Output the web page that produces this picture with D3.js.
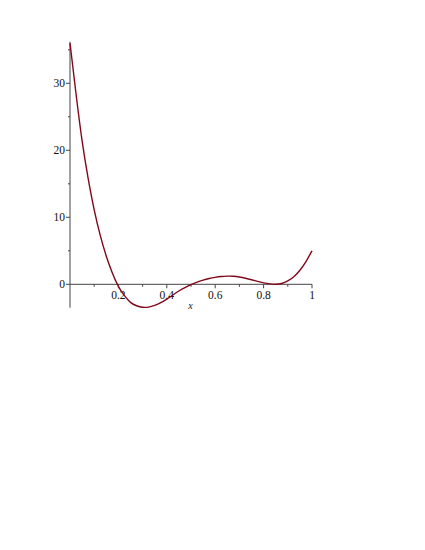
<!DOCTYPE html>
<html>
<head>
<meta charset="utf-8">
<script src="https://cdn.jsdelivr.net/npm/d3@7"></script>
<style>
html,body{margin:0;padding:0;background:#fff;}
svg{display:block;}
</style>
</head>
<body>
<script>
// Data
const xValues = [0,0.025,0.05,0.075,0.1,0.125,0.15,0.175,0.2,0.225,0.25,0.275,0.3,0.325,0.35,0.375,0.4,0.425,0.45,0.475,0.5,0.525,0.55,0.575,0.6,0.625,0.65,0.675,0.7,0.725,0.75,0.775,0.8,0.825,0.85,0.875,0.9,0.925,0.95,0.975,1.0];
const yValues = [36.0,28.4,21.4,15.8,11.1,7.3,4.2,1.7,-0.3,-1.7,-2.7,-3.2,-3.42,-3.4,-3.15,-2.75,-2.2,-1.6,-1.0,-0.5,-0.05,0.33,0.63,0.87,1.04,1.16,1.22,1.2,1.08,0.9,0.68,0.44,0.22,0.06,0.0,0.12,0.5,1.12,2.1,3.4,5.0];
const xMajorTicks = [0.2,0.4,0.6,0.8,1];
const xMinorTicks = [0.1,0.3,0.5,0.7,0.9];
const yMajorTicks = [0,10,20,30];
const yMinorTicks = [5,15,25,35];
const xLabel = "x";

const W = 425, H = 550;
const svg = d3.select("body").append("svg").attr("width", W).attr("height", H);

const x = d3.scaleLinear().domain([0, 1]).range([70, 312]);
const y = d3.scaleLinear().domain([0, 10]).range([284.3, 217.3]);
const yMin = -3.5, yMax = 36.2;

const axisColor = "#444";
const font = "'Liberation Serif', 'DejaVu Serif', serif";

// y axis line
svg.append("line")
  .attr("x1", x(0)).attr("x2", x(0))
  .attr("y1", y(yMax)).attr("y2", y(yMin))
  .attr("stroke", axisColor).attr("stroke-width", 1);

// x axis line
svg.append("line")
  .attr("x1", x(0)).attr("x2", x(1))
  .attr("y1", y(0)).attr("y2", y(0))
  .attr("stroke", axisColor).attr("stroke-width", 1);

// y ticks
svg.selectAll(".ytick").data(yMajorTicks).join("line")
  .attr("x1", x(0) - 4).attr("x2", x(0))
  .attr("y1", d => y(d)).attr("y2", d => y(d))
  .attr("stroke", axisColor).attr("stroke-width", 1);
svg.selectAll(".ymtick").data(yMinorTicks).join("line")
  .attr("x1", x(0) - 2).attr("x2", x(0))
  .attr("y1", d => y(d)).attr("y2", d => y(d))
  .attr("stroke", axisColor).attr("stroke-width", 1);
svg.selectAll(".ylab").data(yMajorTicks).join("text")
  .attr("x", x(0) - 5).attr("y", d => y(d))
  .attr("dy", "0.35em")
  .attr("text-anchor", "end")
  .attr("font-family", font).attr("font-size", 11.5)
  .attr("fill", "#111")
  .text(d => d);

// x ticks
svg.selectAll(".xtick").data(xMajorTicks).join("line")
  .attr("x1", d => x(d)).attr("x2", d => x(d))
  .attr("y1", y(0)).attr("y2", y(0) + 4)
  .attr("stroke", axisColor).attr("stroke-width", 1);
svg.selectAll(".xmtick").data(xMinorTicks).join("line")
  .attr("x1", d => x(d)).attr("x2", d => x(d))
  .attr("y1", y(0)).attr("y2", y(0) + 2.5)
  .attr("stroke", axisColor).attr("stroke-width", 1);
svg.selectAll(".xlab").data(xMajorTicks).join("text")
  .attr("x", d => x(d)).attr("y", y(0) + 15)
  .attr("text-anchor", "middle")
  .attr("font-family", font).attr("font-size", 11.5)
  .attr("fill", "#111")
  .text(d => d);

svg.append("text")
  .attr("x", 190.5).attr("y", 309)
  .attr("text-anchor", "middle")
  .attr("font-family", font).attr("font-size", 10)
  .attr("font-style", "italic")
  .attr("fill", "#111")
  .text(xLabel);

// curve
const pts = xValues.map((v, i) => [v, yValues[i]]);
const line = d3.line()
  .x(d => x(d[0])).y(d => y(d[1]))
  .curve(d3.curveNatural);
svg.append("path")
  .datum(pts)
  .attr("d", line)
  .attr("fill", "none")
  .attr("stroke", "#80081a")
  .attr("stroke-width", 1.4);
</script>
</body>
</html>
